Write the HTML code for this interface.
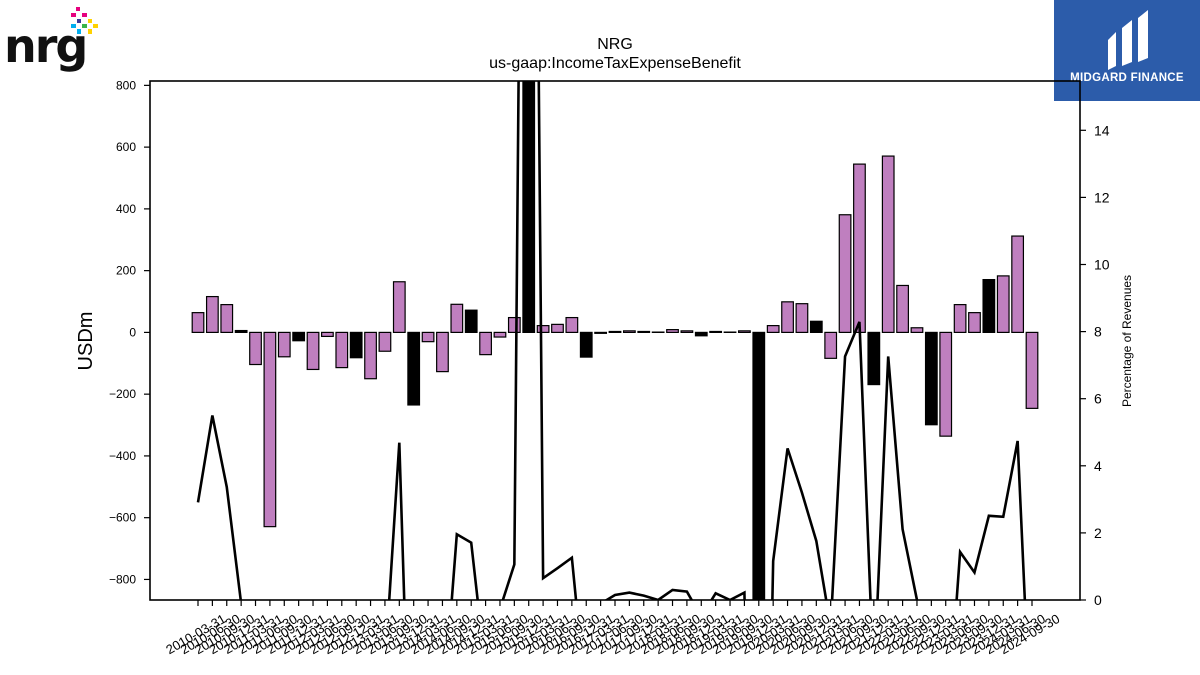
<!DOCTYPE html>
<html><head><meta charset="utf-8"><style>
html,body{margin:0;padding:0;background:#fff;width:1200px;height:675px;overflow:hidden;font-family:"Liberation Sans","DejaVu Sans",sans-serif}
svg{display:block}
</style></head><body>
<svg id="c" width="1200" height="675" xmlns="http://www.w3.org/2000/svg">
<defs><clipPath id="pc"><rect x="150" y="81" width="930" height="519"/></clipPath></defs>
<g>
<text x="4" y="62" font-size="46" font-weight="bold" fill="#111" font-family="DejaVu Sans, sans-serif" letter-spacing="-2">nrg</text>
<rect x="76" y="7" width="4" height="4" fill="#e6007e"/><rect x="71" y="13" width="5" height="4" fill="#e6007e"/><rect x="82" y="13" width="5" height="4" fill="#e6007e"/>
<rect x="77" y="19" width="4" height="4" fill="#3a3a9a"/><rect x="71" y="24" width="5" height="4" fill="#00aeef"/><rect x="82" y="24" width="5" height="4" fill="#39b54a"/>
<rect x="88" y="19" width="4" height="4" fill="#ffd200"/><rect x="93" y="24" width="5" height="4" fill="#ffd200"/><rect x="77" y="29" width="4" height="5" fill="#00aeef"/><rect x="88" y="29" width="4" height="5" fill="#ffd200"/>
</g>
<g>
<rect x="1054" y="0" width="146" height="101" fill="#2c5caa"/>
<path d="M1108 40 L1116 32 L1116 66 L1108 70 Z M1122 28 L1132 20 L1132 62 L1122 66 Z M1138 18 L1148 10 L1148 58 L1138 62 Z" fill="#fff"/>
<text x="1127" y="81" font-size="11.5" font-weight="bold" fill="#fff" text-anchor="middle" letter-spacing="0.3">MIDGARD FINANCE</text>
</g>
<text x="615" y="49" font-size="16" text-anchor="middle">NRG</text>
<text x="615" y="68" font-size="16" text-anchor="middle">us-gaap:IncomeTaxExpenseBenefit</text>
<text transform="translate(92,341) rotate(-90)" font-size="20" text-anchor="middle">USDm</text>
<text transform="translate(1131,341) rotate(-90)" font-size="12" text-anchor="middle">Percentage of Revenues</text>
<g id="bars" clip-path="url(#pc)"></g>
<g id="line" clip-path="url(#pc)"></g>
<g id="axes"></g>
</svg>
<script>
const values=[64,116,90,6,-104,-629,-79,-27,-120,-13,-114,-82,-150,-61,164,-235,-30,-127,91,72,-72,-15,48,1200,22,26,48,-80,-3,3,5,3,1,9,5,-11,3,1,5,-1200,22,99,93,36,-84,381,545,-169,571,152,15,-299,-336,90,64,171,183,312,-246];
const pct=[2.91,5.5,3.37,-0.1,-2,-2,-2,-2,-2,-2,-2,-2,-2,-2,4.69,-9,-3,-3.6,1.96,1.71,-2.1,-0.27,1.06,50,0.65,0.95,1.26,-3.1,-0.11,0.15,0.22,0.13,0,0.3,0.25,-0.5,0.2,0,0.22,-20,1.16,4.52,3.2,1.76,-0.8,7.26,8.29,-2.5,7.26,2.11,0,-3,-4.5,1.43,0.82,2.51,2.48,4.74,-4.7];
const annual=values.map((v,i)=>i%4===3);
const leftTicks=[-800,-600,-400,-200,0,200,400,600,800];
const rightTicks=[0,2,4,6,8,10,12,14];
const ends=["03-31","06-30","09-30","12-31"];
const labels=values.map((v,i)=>(2010+Math.floor(i/4))+"-"+ends[i%4]);
const NS="http://www.w3.org/2000/svg";
const x=i=>198+i*(1032-198)/58;
const y=v=>332.4-v*0.3088;
const y2=v=>600-v*33.55;
function mk(t,a,p){const e=document.createElementNS(NS,t);for(const k in a)e.setAttribute(k,a[k]);p.appendChild(e);return e;}
const bars=document.getElementById('bars'),line=document.getElementById('line'),axes=document.getElementById('axes');
values.forEach((v,i)=>{
 const r=mk('rect',{x:x(i)-5.8,y:Math.min(y(v),y(0)),width:11.6,height:Math.abs(y(v)-y(0)),fill:annual[i]?'#000':'#bf7fbf',stroke:'#000','stroke-width':1.2},bars);
 
 
});
const pl=mk('polyline',{points:pct.map((v,i)=>x(i)+','+y2(v)).join(' '),fill:'none',stroke:'#000','stroke-width':2.6,'stroke-linejoin':'miter'},line);


const fr=mk('rect',{x:150,y:81,width:930,height:519,fill:'none',stroke:'#000','stroke-width':1.6},axes);


leftTicks.forEach(t=>{
 mk('line',{x1:144,x2:150,y1:y(t),y2:y(t),stroke:'#000','stroke-width':1.2},axes);
 const tx=mk('text',{x:136,y:y(t)+4,'font-size':12,'text-anchor':'end'},axes);
 tx.textContent=t<0?'\u2212'+(-t):t;
 
 
});
rightTicks.forEach(t=>{
 mk('line',{x1:1080,x2:1086,y1:y2(t),y2:y2(t),stroke:'#000','stroke-width':1.2},axes);
 const tx=mk('text',{x:1094,y:y2(t)+5,'font-size':14},axes);
 tx.textContent=t;
 
 
});
labels.forEach((l,i)=>{
 mk('line',{x1:x(i),x2:x(i),y1:600,y2:606,stroke:'#000','stroke-width':1.2},axes);
 const tx=mk('text',{transform:`translate(${x(i)},${638}) rotate(-30)`,'font-size':13,'text-anchor':'middle'},axes);
 tx.textContent=l;
 
 
});
</script>
</body></html>
